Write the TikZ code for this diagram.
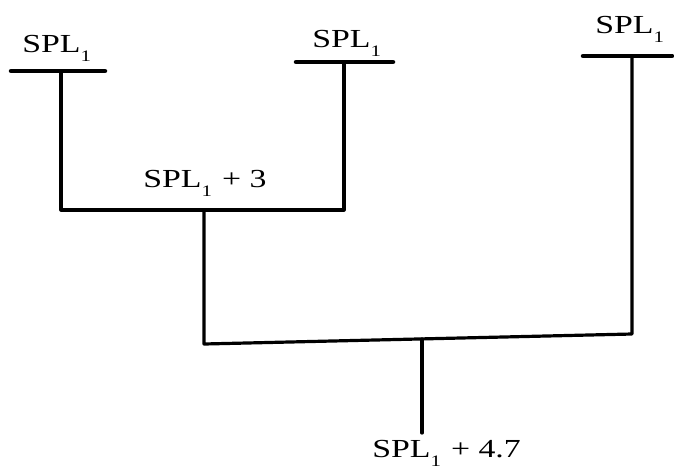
\documentclass[tikz,border=0pt]{standalone}
\usepackage{fontspec}
\setmainfont{Liberation Serif}
\newcommand{\spl}{SPL\raisebox{-0.38em}{\fontsize{16}{16}\selectfont 1}}
\begin{document}
\begin{tikzpicture}[x=1pt,y=-1pt,
  lbl/.style={anchor=base west,inner sep=0pt,xscale=1.3,font=\fontsize{26}{26}\selectfont},
  wire/.style={line width=3.2pt,line cap=round,line join=round},
  bar/.style={line width=4.5pt,line cap=round}]
\useasboundingbox (0,0) rectangle (674,472);
% bars
\coordinate (b1l) at (11,71); \coordinate (b1r) at (105,71); \coordinate (b1c) at (61,71);
\coordinate (b2l) at (296,62); \coordinate (b2r) at (393,62); \coordinate (b2c) at (344,62);
\coordinate (b3l) at (583,56); \coordinate (b3r) at (672,56); \coordinate (b3c) at (632,56);
\draw[bar] (b1l) -- (b1r);
\draw[bar] (b2l) -- (b2r);
\draw[bar] (b3l) -- (b3r);
% first junction
\coordinate (j1l) at (61,210); \coordinate (j1r) at (344,210); \coordinate (j1c) at (204,210);
\draw[wire] (b1c) -- (j1l) -- (j1r) -- (b2c);
% second junction
\coordinate (j2l) at (204,344); \coordinate (j2r) at (632,334); \coordinate (j2c) at (422,339);
\draw[wire] (j1c) -- (j2l) -- (j2r) -- (b3c);
\coordinate (out) at (422,433);
\draw[wire] (j2c) -- (out);
% labels
\node[lbl] (t1) at (22,52) {\spl};
\node[lbl] (t2) at (312,47) {\spl};
\node[lbl] (t3) at (595,33) {\spl};
\node[lbl] (t4) at (143,187) {\spl\hspace{0.3em}+\hspace{0.25em}3};
\node[lbl] (t5) at (372,457) {\spl\hspace{0.3em}+\hspace{0.25em}4.7};
\end{tikzpicture}
\end{document}
